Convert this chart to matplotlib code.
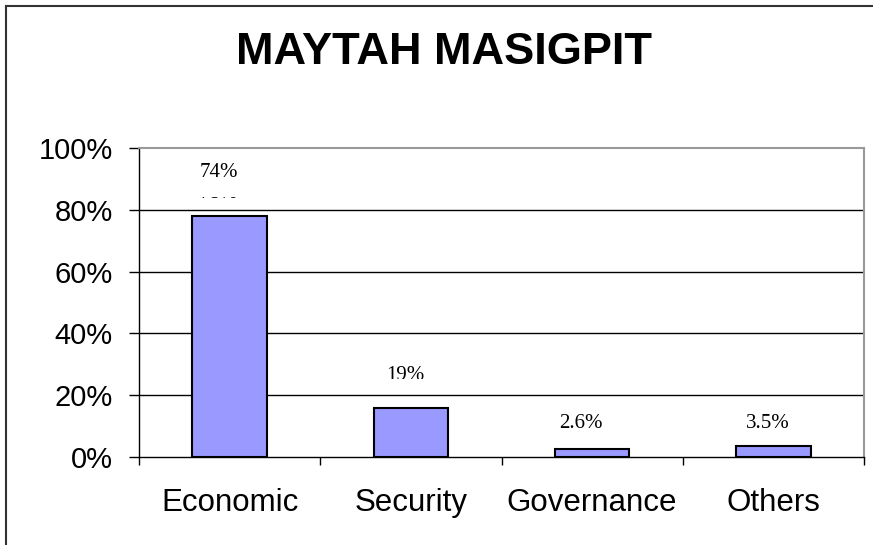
import matplotlib
matplotlib.use("Agg")
import matplotlib.pyplot as plt
from matplotlib.patches import Rectangle
from matplotlib.lines import Line2D
import numpy as np

categories = ["Economic", "Security", "Governance", "Others"]
values = [78, 16, 2.6, 3.5]
labels = ["74%", "19%", "2.6%", "3.5%"]
label_levels = [92.2, 26.5, 11.0, 11.0]
hidden_label = "78%"
hidden_level = 85.3
title = "MAYTAH MASIGPIT"
yticks = [0, 20, 40, 60, 80, 100]

W, H = 873, 545
fig = plt.figure(figsize=(W / 100, H / 100), dpi=100)
ax = fig.add_axes([139 / W, 1 - 457 / H, 725 / W, 309 / H])

x = np.arange(len(categories))
ax.bar(x, values, width=0.41, color="#9999FF", edgecolor="black", linewidth=1.5, zorder=3)

for yv in yticks[1:-1]:
    ax.axhline(yv, color="black", linewidth=1.0, zorder=1)

ax.set_xlim(-0.5, 3.5)
ax.set_ylim(0, 100)
ax.set_yticks(yticks)
ax.set_yticklabels([f"{v}%" for v in yticks], fontname="Liberation Sans", fontsize=21)
ax.set_xticks(x)
ax.set_xticklabels(categories, fontname="Liberation Sans", fontsize=22.5)
ax.tick_params(axis="x", length=0, pad=22)
ax.tick_params(axis="y", direction="out", length=7, width=1, pad=12)
ax.set_xticks(np.arange(-0.5, 4.0, 1.0), minor=True)
ax.tick_params(axis="x", which="minor", direction="out", length=6, width=1)

for side in ["top", "right"]:
    ax.spines[side].set_color("#999999")
    ax.spines[side].set_linewidth(1.5)
for side in ["left", "bottom"]:
    ax.spines[side].set_color("black")
    ax.spines[side].set_linewidth(1.0)

# value labels
offsets = [-0.06, -0.03, -0.06, -0.03]
for i, (lab, lev) in enumerate(zip(labels, label_levels)):
    ax.text(x[i] + offsets[i], lev, lab, ha="center", va="center",
            fontname="Liberation Serif", fontsize=15, zorder=6)

# partly hidden label under the first one, and the mask over the 19% bottom
ax.text(x[0] - 0.06, hidden_level, hidden_label, ha="center", va="center",
        fontname="Liberation Serif", fontsize=15, zorder=4)
ax.add_patch(Rectangle((x[0] - 0.3, 84.0), 0.5, 5.6, facecolor="white",
                       edgecolor="none", zorder=5))
ax.add_patch(Rectangle((x[1] - 0.3, 24.4), 0.5, 0.9, facecolor="white",
                       edgecolor="none", zorder=7))

fig.text(444 / W, 1 - 53 / H, title, ha="center", va="center",
         fontname="Liberation Sans", fontweight="bold", fontsize=32.5)

# outer chart border
fig.add_artist(Line2D([6 / W, 6 / W], [0, 1 - 6 / H], transform=fig.transFigure,
                      color="#333333", linewidth=1.5))
fig.add_artist(Line2D([6 / W, 1], [1 - 6 / H, 1 - 6 / H], transform=fig.transFigure,
                      color="#333333", linewidth=1.5))

fig.savefig("out.png", dpi=100, facecolor="white")
